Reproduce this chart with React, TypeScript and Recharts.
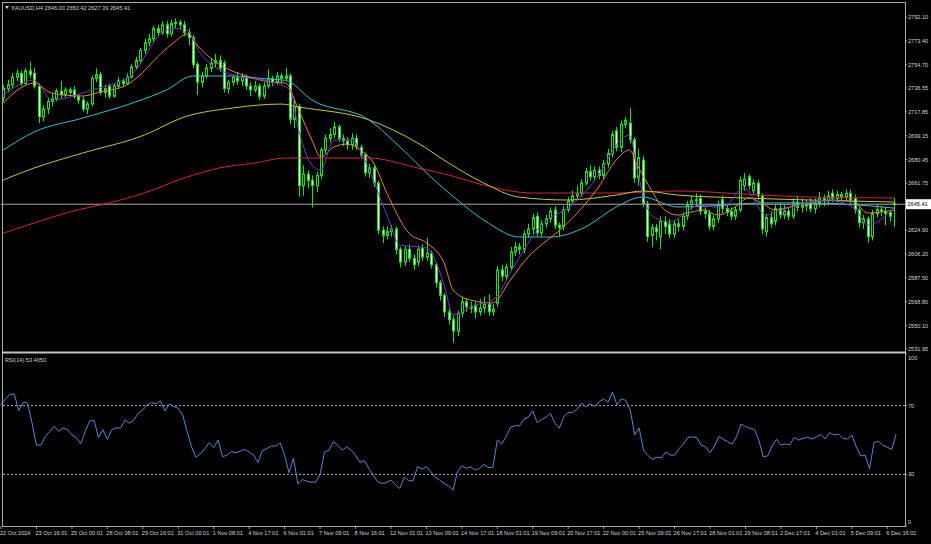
import React from 'react';
import { ComposedChart, Bar, Line, XAxis, YAxis, ReferenceLine } from 'recharts';

// XAUUSD H4 candles, 22 Oct - 6 Dec 2024
const opens = [
  2729, 2736, 2739, 2745, 2748, 2740, 2750, 2748, 2738, 2714,
  2720, 2726, 2728, 2734, 2731, 2735, 2735, 2730, 2727, 2720,
  2724, 2744, 2747, 2733, 2738, 2730, 2738, 2742, 2740, 2745,
  2753, 2758, 2766, 2772, 2775, 2783, 2780, 2786, 2779, 2787,
  2788, 2786, 2780, 2776, 2755, 2741, 2746, 2752, 2756, 2758,
  2756, 2736, 2741, 2745, 2742, 2745, 2738, 2735, 2738, 2730,
  2738, 2744, 2741, 2746, 2744, 2746, 2712, 2722, 2660, 2669,
  2664, 2660, 2668, 2688, 2697, 2700, 2706, 2697, 2695, 2692,
  2697, 2690, 2684, 2670, 2674, 2662, 2625, 2621, 2624, 2626,
  2610, 2600, 2610, 2603, 2600, 2611, 2604, 2607, 2598, 2584,
  2574, 2561, 2555, 2546, 2560, 2569, 2565, 2566, 2561, 2564,
  2567, 2561, 2568, 2594, 2589, 2596, 2608, 2612, 2610, 2622,
  2626, 2636, 2623, 2630, 2634, 2641, 2629, 2628, 2641, 2648,
  2652, 2654, 2662, 2671, 2667, 2672, 2668, 2677, 2685, 2703,
  2690, 2708, 2709, 2696, 2666, 2680, 2646, 2621, 2627, 2620,
  2632, 2630, 2622, 2630, 2628, 2636, 2645, 2648, 2650, 2640,
  2638, 2628, 2634, 2649, 2642, 2640, 2636, 2641, 2660, 2667,
  2656, 2662, 2652, 2624, 2635, 2632, 2642, 2637, 2640, 2636,
  2647, 2643, 2645, 2646, 2642, 2646, 2650, 2648, 2654, 2650,
  2653, 2651, 2654, 2650, 2641, 2631, 2634, 2620, 2638, 2641,
  2640, 2639, 2646.0,
];
const highs = [
  2739, 2743, 2748, 2751, 2750, 2752, 2757, 2752, 2740, 2723,
  2729, 2732, 2736, 2742, 2737, 2737, 2738, 2732, 2730, 2726,
  2746, 2752, 2749, 2739, 2740, 2740, 2745, 2744, 2748, 2755,
  2761, 2768, 2775, 2779, 2785, 2786, 2789, 2789, 2790, 2791,
  2790, 2789, 2783, 2778, 2757, 2749, 2755, 2760, 2763, 2762,
  2758, 2743, 2747, 2749, 2748, 2747, 2741, 2742, 2740, 2741,
  2751, 2746, 2749, 2748, 2752, 2748, 2728, 2724, 2676, 2672,
  2668, 2671, 2690, 2700, 2705, 2710, 2708, 2700, 2698, 2701,
  2700, 2692, 2686, 2677, 2676, 2664, 2628, 2628, 2629, 2628,
  2612, 2613, 2614, 2606, 2613, 2614, 2619, 2609, 2600, 2586,
  2576, 2564, 2558, 2562, 2573, 2572, 2569, 2569, 2571, 2573,
  2575, 2567, 2597, 2598, 2599, 2612, 2616, 2615, 2625, 2630,
  2638, 2639, 2633, 2637, 2643, 2644, 2631, 2644, 2651, 2656,
  2660, 2665, 2674, 2676, 2675, 2675, 2680, 2689, 2703, 2706,
  2711, 2714, 2721, 2698, 2689, 2683, 2648, 2630, 2630, 2636,
  2636, 2634, 2633, 2634, 2639, 2648, 2652, 2654, 2653, 2643,
  2641, 2637, 2648, 2652, 2645, 2643, 2644, 2667, 2670, 2669,
  2665, 2664, 2654, 2638, 2640, 2645, 2646, 2645, 2643, 2650,
  2652, 2650, 2649, 2650, 2650, 2655, 2653, 2656, 2657, 2656,
  2655, 2657, 2657, 2653, 2643, 2637, 2636, 2641, 2645, 2644,
  2643, 2641, 2650.42,
];
const lows = [
  2726, 2733, 2736, 2742, 2738, 2739, 2744, 2736, 2709, 2710,
  2716, 2722, 2726, 2728, 2729, 2730, 2728, 2724, 2718, 2716,
  2722, 2741, 2731, 2729, 2728, 2729, 2736, 2737, 2739, 2744,
  2751, 2756, 2763, 2769, 2772, 2777, 2778, 2776, 2777, 2783,
  2782, 2777, 2770, 2752, 2731, 2737, 2744, 2749, 2752, 2749,
  2733, 2732, 2738, 2739, 2738, 2735, 2730, 2733, 2727, 2728,
  2736, 2738, 2739, 2740, 2742, 2708, 2705, 2651, 2652, 2658,
  2643, 2655, 2665, 2685, 2694, 2697, 2694, 2691, 2688, 2688,
  2688, 2682, 2667, 2666, 2659, 2622, 2615, 2618, 2620, 2606,
  2596, 2597, 2600, 2594, 2597, 2601, 2601, 2595, 2580, 2570,
  2557, 2551, 2537, 2542, 2557, 2561, 2560, 2556, 2558, 2560,
  2558, 2558, 2565, 2585, 2586, 2593, 2605, 2606, 2607, 2619,
  2622, 2620, 2620, 2627, 2631, 2626, 2620, 2625, 2639, 2646,
  2649, 2651, 2660, 2664, 2664, 2665, 2665, 2674, 2682, 2687,
  2686, 2705, 2693, 2662, 2660, 2643, 2616, 2612, 2617, 2610,
  2622, 2619, 2619, 2624, 2625, 2633, 2641, 2644, 2637, 2634,
  2625, 2625, 2631, 2638, 2636, 2633, 2633, 2639, 2656, 2657,
  2653, 2649, 2622, 2620, 2627, 2629, 2634, 2634, 2633, 2634,
  2640, 2639, 2640, 2639, 2638, 2643, 2644, 2645, 2647, 2647,
  2648, 2648, 2646, 2638, 2627, 2626, 2615, 2617, 2635, 2636,
  2629, 2632, 2627.39,
];
const closes = [
  2736, 2739, 2745, 2748, 2740, 2750, 2747, 2738, 2714, 2720,
  2726, 2728, 2734, 2731, 2735, 2733, 2730, 2727, 2720, 2724,
  2744, 2747, 2733, 2736, 2730, 2738, 2742, 2740, 2745, 2753,
  2758, 2766, 2772, 2775, 2783, 2780, 2786, 2779, 2787, 2788,
  2786, 2780, 2776, 2755, 2741, 2746, 2752, 2756, 2758, 2752,
  2736, 2741, 2745, 2742, 2745, 2738, 2735, 2738, 2730, 2738,
  2744, 2741, 2746, 2744, 2746, 2712, 2722, 2660, 2669, 2664,
  2660, 2668, 2688, 2697, 2700, 2706, 2697, 2695, 2692, 2697,
  2691, 2684, 2670, 2674, 2662, 2625, 2621, 2624, 2626, 2610,
  2600, 2610, 2603, 2598, 2610, 2604, 2607, 2598, 2584, 2574,
  2561, 2555, 2546, 2560, 2569, 2565, 2564, 2561, 2564, 2567,
  2561, 2563, 2594, 2589, 2596, 2608, 2612, 2610, 2622, 2626,
  2635, 2623, 2630, 2634, 2640, 2629, 2627, 2641, 2648, 2652,
  2654, 2662, 2671, 2667, 2672, 2668, 2677, 2685, 2700, 2690,
  2708, 2711, 2696, 2666, 2682, 2646, 2620, 2627, 2624, 2632,
  2628, 2622, 2630, 2628, 2636, 2645, 2648, 2649, 2640, 2638,
  2628, 2634, 2645, 2642, 2639, 2636, 2641, 2664, 2665, 2660,
  2662, 2652, 2626, 2635, 2630, 2642, 2637, 2640, 2636, 2647,
  2643, 2645, 2644, 2642, 2646, 2650, 2648, 2652, 2650, 2653,
  2651, 2654, 2649, 2641, 2631, 2634, 2620, 2638, 2641, 2640,
  2638, 2636, 2645.41,
];

const rsiValues = [
  70.4, 74, 76.5, 76.8, 67, 72, 71.5, 60, 47, 47,
  52, 55, 58, 55, 57, 56, 53, 51.5, 47.7, 55,
  61, 61.5, 51.5, 56, 50.4, 56, 57, 57, 61.7, 59.8,
  61.7, 65.5, 67.5, 70.4, 71.8, 71, 72.7, 67, 71, 69.4,
  68.4, 64.5, 55, 46, 40, 42, 45, 48.4, 45.6, 50,
  40.3, 41.2, 43.2, 42.6, 43.5, 44.6, 43, 41.2, 37, 44,
  45, 46.5, 46.5, 48.4, 41.2, 31, 39.5, 24.5, 27, 26,
  25.5, 25.5, 30, 43, 44, 49, 47, 44, 46, 44,
  41.2, 37, 38, 33.6, 29.6, 25.7, 24.7, 25.2, 26.7, 24,
  21.8, 28.5, 26.3, 26.3, 34.5, 33, 34.5, 31.5, 28.5, 26.7,
  24.7, 23.3, 20.9, 31.5, 35, 33.5, 34.4, 32.5, 33.5, 35.8,
  34, 34, 50, 47.7, 52, 57.4, 58.3, 58.3, 62, 63.3,
  67, 60, 62, 63.3, 65.5, 59.8, 56.8, 63.6, 66, 66,
  67.9, 71.4, 69.4, 71, 69.4, 72.3, 73.8, 72, 77.8, 70.4,
  74, 73, 67.5, 53, 57, 44, 41, 38.7, 40, 39.6,
  43, 41.2, 41.2, 45, 47.7, 51.5, 51.8, 51.5, 47, 46,
  42.6, 46.5, 52, 50.4, 49, 47.7, 52, 59.3, 57.8, 56.8,
  56.2, 50, 40.3, 40.7, 46.5, 50.4, 47.2, 47.7, 47.2, 51.5,
  50, 51, 51.5, 50.6, 51.8, 53.3, 50.6, 54.3, 52.9, 53.5,
  50.8, 50.6, 52.9, 46.1, 40.7, 41.2, 33.4, 48.4, 49.3, 47,
  45.8, 44.5, 53.405,
];

// moving averages as [bar index, price]
const purpleMa = [
  [0, 2731.0], [7, 2742.7], [11, 2727.1], [20, 2734.9], [29, 2746.6], [37, 2781.9], [41, 2783.4],
  [45, 2762.3], [52, 2746.6], [61, 2741.2], [65, 2734.9], [67, 2703.5], [70, 2676.1], [72, 2672.2],
  [75, 2695.7], [79, 2695.7], [82, 2680.0], [87, 2636.9], [90, 2613.4], [96, 2611.1], [100, 2582.1],
  [102, 2558.6], [107, 2566.4], [111, 2570.3], [116, 2597.8], [122, 2629.1], [129, 2644.8],
  [135, 2668.3], [140, 2695.7], [142, 2699.6], [144, 2668.3], [147, 2636.9], [151, 2631.4],
  [158, 2644.8], [163, 2642.4], [168, 2658.1], [173, 2636.9], [178, 2642.4], [187, 2648.7],
  [193, 2642.4], [196, 2629.1], [202, 2642.4],
];
const orangeMa = [
  [0, 2724.7], [4, 2736.5], [7, 2740.4], [11, 2732.5], [18, 2730.2], [22, 2733.3], [28, 2738.8],
  [31, 2746.6], [35, 2760.8], [38, 2770.2], [42, 2779.0], [44, 2770.0], [47, 2760.0], [50, 2753.0],
  [55, 2746.0], [60, 2741.5], [64, 2740.4], [67, 2719.2], [70, 2695.7], [72, 2682.4], [75, 2690.2],
  [78, 2692.6], [81, 2687.9], [84, 2677.7], [87, 2654.2], [92, 2622.8], [96, 2615.0], [100, 2599.3],
  [102, 2578.2], [106, 2570.3], [111, 2568.0], [115, 2586.0], [119, 2604.0], [122, 2613.4],
  [127, 2627.5], [135, 2658.9], [139, 2680.0], [142, 2687.9], [144, 2674.6], [147, 2656.5],
  [150, 2640.9], [153, 2636.9], [156, 2639.3], [159, 2640.9], [162, 2636.9], [166, 2643.2],
  [169, 2650.3], [172, 2646.4], [175, 2640.9], [180, 2644.8], [188, 2648.7], [193, 2647.1],
  [196, 2638.5], [199, 2639.3], [202, 2640.9],
];
const cyanMa = [
  [0, 2687.9], [7, 2702.0], [18, 2712.9], [30, 2725.5], [37, 2734.9], [43, 2745.9], [52, 2745.9],
  [60, 2743.5], [64, 2742.5], [70, 2727.1], [83, 2711.4], [90, 2690.2], [97, 2666.7], [103, 2648.7],
  [110, 2630.7], [117, 2619.7], [124, 2619.7], [132, 2627.5], [139, 2643.2], [145, 2651.0],
  [153, 2643.2], [160, 2644.0], [172, 2646.4], [183, 2646.4], [202, 2642.4],
];
const yellowMa = [
  [0, 2664.4], [7, 2673.8], [18, 2685.5], [32, 2699.6], [41, 2713.7], [52, 2720.8], [63, 2723.9],
  [67, 2721.6], [83, 2711.4], [94, 2693.4], [101, 2677.7], [109, 2662.0], [117, 2651.0],
  [128, 2648.7], [139, 2652.6], [145, 2655.8], [153, 2652.6], [168, 2650.3], [183, 2648.7],
  [202, 2647.1],
];
const redMa = [
  [0, 2622.8], [7, 2630.7], [15, 2639.3], [24, 2646.4], [32, 2654.2], [41, 2665.9], [49, 2673.8],
  [57, 2677.7], [64, 2681.6], [83, 2681.6], [94, 2673.8], [101, 2668.3], [109, 2660.4],
  [120, 2654.2], [139, 2654.2], [153, 2655.8], [168, 2653.4], [183, 2651.0], [202, 2650.3],
];

const timeLabels = [
  '22 Oct 2024', '23 Oct 16:01', '25 Oct 00:01', '28 Oct 08:01', '29 Oct 16:01', '31 Oct 00:01',
  '1 Nov 08:01', '4 Nov 17:01', '6 Nov 01:01', '7 Nov 09:01', '8 Nov 16:01', '12 Nov 01:01',
  '13 Nov 09:01', '14 Nov 17:01', '18 Nov 01:01', '19 Nov 09:01', '20 Nov 17:01', '22 Nov 00:01',
  '25 Nov 09:01', '26 Nov 17:01', '28 Nov 01:01', '29 Nov 08:01', '2 Dec 17:01', '4 Dec 01:01',
  '5 Dec 09:01', '6 Dec 16:01',
];
const priceTicks = [
  2531.95, 2550.1, 2568.8, 2587.5, 2606.2, 2624.9, 2645.41, 2661.75, 2680.45, 2699.15,
  2717.85, 2736.55, 2754.7, 2773.4, 2792.1,
];
const rsiTicks = [0, 30, 70, 100];
const lastPrice = 2645.41;

const GREEN = '#1ee01e';
const TXT = '#d4d4d4';
const GRID = '#9c9c9c';
const FONT = '"Liberation Sans", Arial, sans-serif';
const SHIFT = 2; // empty slots right of the last bar

const rows: any[] = [];
for (let i = 0; i < closes.length + SHIFT; i++) {
  if (i < closes.length) {
    rows.push({ i, range: [lows[i], highs[i]], o: opens[i], c: closes[i], rsi: rsiValues[i] });
  } else {
    rows.push({ i });
  }
}
const putMa = (key: string, pts: number[][]) => pts.forEach(([i, v]) => { rows[i][key] = v; });
putMa('purple', purpleMa);
putMa('orange', orangeMa);
putMa('cyan', cyanMa);
putMa('yellow', yellowMa);
putMa('red', redMa);

const labelTicks = timeLabels.map((_, k) => k * 8);

const Candle = (props: any) => {
  const { x, y, width, height, payload } = props;
  if (!payload || !payload.range) return null;
  const [lo, hi] = payload.range;
  const top = Math.min(y, y + height);
  const span = Math.abs(height);
  const toY = (v: number) => (hi === lo ? top : top + ((hi - v) / (hi - lo)) * span);
  const cx = Math.round(x + width / 2) + 0.5;
  const yo = toY(payload.o);
  const yc = toY(payload.c);
  const bull = payload.c >= payload.o;
  const bTop = Math.min(yo, yc);
  const bH = Math.max(Math.abs(yo - yc), 1);
  return (
    <g>
      <line x1={cx} x2={cx} y1={top} y2={top + span} stroke={GREEN} strokeWidth={1} />
      <rect x={cx - 1} y={bTop} width={2} height={bH} fill={bull ? '#000' : '#f4fff4'} stroke={GREEN} strokeWidth={1} />
    </g>
  );
};

const PriceTick = (props: any) => {
  const { y, payload } = props;
  const v = payload.value;
  if (v === lastPrice) {
    return (
      <g>
        <rect x={906} y={y - 5} width={25} height={10} fill="#fff" />
        <text x={907.5} y={y} dominantBaseline="central" fontSize={5.6} fontFamily={FONT} fill="#000">{v.toFixed(2)}</text>
      </g>
    );
  }
  return (
    <text x={908} y={y} dominantBaseline="central" fontSize={5.6} fontFamily={FONT} fill={TXT}>{v.toFixed(2)}</text>
  );
};

const RsiTick = (props: any) => {
  const { y, payload } = props;
  const v = payload.value;
  const dy = v === 100 ? 4 : v === 0 ? -4 : 0;
  return (
    <text x={908} y={y + dy} dominantBaseline="central" fontSize={5.6} fontFamily={FONT} fill={TXT}>{v}</text>
  );
};

const TimeTick = (props: any) => {
  const { x, payload } = props;
  const label = timeLabels[payload.value / 8];
  return (
    <text x={x - 1} y={181} dominantBaseline="central" fontSize={5.6} fontFamily={FONT} fill={TXT}>{label}</text>
  );
};

export default function App() {
  return (
    <div style={{ position: 'absolute', left: 0, top: 0, width: 931, height: 544, background: '#000', overflow: 'hidden' }}>
      <div style={{ position: 'absolute', left: 0, top: 0 }}>
        <ComposedChart width={931} height={352} data={rows} margin={{ top: 4, right: 0, bottom: 1, left: 1 }}>
          <XAxis dataKey="i" hide />
          <YAxis
            orientation="right"
            width={26}
            domain={[2530.4, 2802.3]}
            allowDataOverflow
            ticks={priceTicks}
            interval={0}
            axisLine={false}
            tickLine={{ stroke: GRID }}
            tickSize={2}
            tick={<PriceTick />}
          />
          <ReferenceLine y={lastPrice} stroke="#a8a8a8" strokeWidth={1} />
          <Bar dataKey="range" shape={<Candle />} isAnimationActive={false} />
          <Line dataKey="red" type="monotone" stroke="#d42045" strokeWidth={1} dot={false} connectNulls isAnimationActive={false} />
          <Line dataKey="yellow" type="monotone" stroke="#c4c832" strokeWidth={1} dot={false} connectNulls isAnimationActive={false} />
          <Line dataKey="cyan" type="monotone" stroke="#38bcd4" strokeWidth={1} dot={false} connectNulls isAnimationActive={false} />
          <Line dataKey="orange" type="monotone" stroke="#e8842e" strokeWidth={1} dot={false} connectNulls isAnimationActive={false} />
          <Line dataKey="purple" type="monotone" stroke="#7a34c8" strokeWidth={1} dot={false} connectNulls isAnimationActive={false} />
        </ComposedChart>
      </div>
      <div style={{ position: 'absolute', left: 0, top: 352 }}>
        <ComposedChart width={931} height={192} data={rows} margin={{ top: 2, right: 0, bottom: 0, left: 1 }}>
          <XAxis
            dataKey="i"
            height={18}
            ticks={labelTicks}
            interval={0}
            axisLine={false}
            tickLine={{ stroke: GRID }}
            tickSize={3}
            tick={<TimeTick />}
          />
          <YAxis
            orientation="right"
            width={26}
            domain={[0, 100]}
            ticks={rsiTicks}
            interval={0}
            axisLine={false}
            tickLine={{ stroke: GRID }}
            tickSize={2}
            tick={<RsiTick />}
          />
          <ReferenceLine y={70} stroke="#b0b0b0" strokeDasharray="2 2" />
          <ReferenceLine y={30} stroke="#b0b0b0" strokeDasharray="2 2" />
          <Line dataKey="rsi" type="linear" stroke="#5b86d4" strokeWidth={1} dot={false} isAnimationActive={false} />
        </ComposedChart>
      </div>
      <svg width={931} height={544} style={{ position: 'absolute', left: 0, top: 0, pointerEvents: 'none' }}>
        <g stroke="#a8a8a8" strokeWidth={1} fill="none">
          <line x1={2.5} y1={2} x2={2.5} y2={526} />
          <line x1={2} y1={2.5} x2={906} y2={2.5} />
          <line x1={905.5} y1={2} x2={905.5} y2={526} />
          <line x1={2} y1={526.5} x2={906} y2={526.5} />
        </g>
        <rect x={2} y={351.5} width={904} height={2} fill="#c4c4c4" />
        <path d="M5,6 L9,6 L7,9 Z" fill={TXT} />
        <text x={11} y={8} dominantBaseline="central" fontSize={5.6} fontFamily={FONT} fill={TXT}>
          XAUUSD,H4  2646.00 2650.42 2627.39 2645.41
        </text>
        <text x={5} y={359.5} dominantBaseline="central" fontSize={5.6} fontFamily={FONT} fill={TXT}>
          RSI(14) 53.4050
        </text>
      </svg>
    </div>
  );
}
